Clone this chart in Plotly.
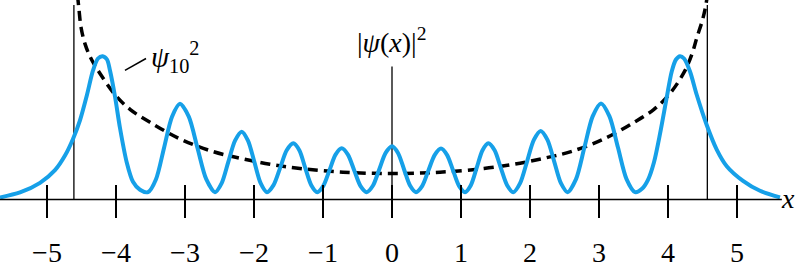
import plotly.graph_objects as go

# ---- data ----
psi_x = [-5.681, -5.391, -5.101, -4.884, -4.739, -4.623, -4.522, -4.420, -4.333, -4.261,
         -4.193, -4.130, -4.087, -4.014, -3.942, -3.845, -3.754, -3.652,
         -3.536, -3.420, -3.304, -3.188, -3.072, -2.945, -2.819, -2.692,
         -2.565, -2.468, -2.372, -2.275, -2.178, -2.087, -1.995, -1.904,
         -1.812, -1.717, -1.621, -1.526, -1.430, -1.343, -1.257, -1.170,
         -1.083, -0.995, -0.906, -0.818, -0.729, -0.639, -0.548, -0.458,
         -0.367, -0.275, -0.184, -0.092, 0.0, 0.087, 0.174, 0.261,
         0.348, 0.439, 0.529, 0.620, 0.710, 0.797, 0.884, 0.971,
         1.058, 1.143, 1.227, 1.312, 1.396, 1.487, 1.577, 1.668,
         1.758, 1.857, 1.957, 2.056, 2.155, 2.253, 2.351, 2.448,
         2.546, 2.667, 2.788, 2.908, 3.029, 3.152, 3.275, 3.399,
         3.522, 3.623, 3.710, 3.797, 3.884, 3.981, 4.054, 4.116, 4.174, 4.232, 4.319,
         4.416, 4.561, 4.706, 4.851, 5.087, 5.333, 5.623]
psi_y = [0.006, 0.021, 0.050, 0.088, 0.132, 0.182, 0.238, 0.315, 0.388, 0.424,
         0.431, 0.421, 0.388, 0.309, 0.215, 0.112, 0.053, 0.029,
         0.022, 0.061, 0.155, 0.249, 0.288, 0.249, 0.155, 0.061,
         0.022, 0.049, 0.113, 0.177, 0.204, 0.177, 0.113, 0.049,
         0.022, 0.043, 0.095, 0.148, 0.169, 0.148, 0.095, 0.043,
         0.022, 0.041, 0.088, 0.135, 0.154, 0.135, 0.088, 0.041,
         0.022, 0.042, 0.091, 0.140, 0.160, 0.140, 0.091, 0.042,
         0.022, 0.041, 0.088, 0.134, 0.153, 0.134, 0.088, 0.041,
         0.022, 0.043, 0.095, 0.148, 0.169, 0.148, 0.095, 0.043,
         0.022, 0.049, 0.114, 0.179, 0.206, 0.179, 0.114, 0.049,
         0.022, 0.061, 0.156, 0.250, 0.289, 0.250, 0.156, 0.061,
         0.022, 0.032, 0.059, 0.112, 0.197, 0.306, 0.385, 0.421, 0.431, 0.424, 0.385,
         0.315, 0.224, 0.150, 0.100, 0.056, 0.026, 0.006]

classical_x = [-4.558, -4.536, -4.507, -4.449, -4.362, -4.232, -4.014, -3.797, -3.507,
               -3.072, -2.594, -2.203, -1.768, -1.333, -0.710, 0.0, 0.696, 1.333, 1.768,
               2.203, 2.594, 3.072, 3.507, 3.797, 4.014, 4.232, 4.348, 4.420, 4.493,
               4.536, 4.572]
classical_y = [0.615, 0.571, 0.518, 0.468, 0.424, 0.379, 0.315, 0.271, 0.232,
               0.182, 0.144, 0.124, 0.106, 0.093, 0.082, 0.078, 0.082, 0.093, 0.106,
               0.124, 0.144, 0.182, 0.232, 0.271, 0.315, 0.382, 0.438, 0.488, 0.535,
               0.571, 0.615]

turning_points = [-4.61, 4.57]
turning_top = 0.585
center_top = 0.400
tick_vals = [-5, -4, -3, -2, -1, 0, 1, 2, 3, 4, 5]
x_range = [-5.681, 5.913]
y_range = [-0.1882, 0.6]
axis_end = 5.65
leader_x = [-3.870, -3.565]
leader_y = [0.388, 0.424]

BLUE = "rgb(22,160,232)"
SERIF = "'Liberation Serif', 'Times New Roman', 'DejaVu Serif', serif"

fig = go.Figure()

# axis line (drawn on the overlay axis)
fig.add_trace(go.Scatter(x=[x_range[0], axis_end], y=[0, 0], mode="lines",
                         line=dict(color="black", width=1.6), xaxis="x2",
                         hoverinfo="skip", showlegend=False))

# turning point lines
for tp in turning_points:
    fig.add_trace(go.Scatter(x=[tp, tp], y=[0, turning_top], mode="lines",
                             line=dict(color="black", width=1.3),
                             hoverinfo="skip", showlegend=False))
# central vertical line
fig.add_trace(go.Scatter(x=[0, 0], y=[0, center_top], mode="lines",
                         line=dict(color="black", width=1.3),
                         hoverinfo="skip", showlegend=False))

# classical probability (dashed)
fig.add_trace(go.Scatter(x=classical_x, y=classical_y, mode="lines",
                         line=dict(color="black", width=3.5, dash="10px,6px",
                                   shape="spline", smoothing=1.0),
                         hoverinfo="skip", showlegend=False))

# psi_10 squared
fig.add_trace(go.Scatter(x=psi_x, y=psi_y, mode="lines",
                         line=dict(color=BLUE, width=4, shape="spline", smoothing=0.8),
                         hoverinfo="skip", showlegend=False))

# leader line for the label
fig.add_trace(go.Scatter(x=leader_x, y=leader_y, mode="lines",
                         line=dict(color="black", width=1.5),
                         hoverinfo="skip", showlegend=False))

fig.add_annotation(x=-3.52, y=0.43, xref="x", yref="y", xanchor="left", yanchor="middle",
                   text="<i>ψ</i><sub>10</sub><sup>2</sup>", showarrow=False,
                   font=dict(family=SERIF, size=29, color="black"))
fig.add_annotation(x=0.0, y=0.478, xref="x", yref="y", xanchor="center", yanchor="middle",
                   text="|<i>ψ</i>(<i>x</i>)|<sup>2</sup>", showarrow=False,
                   font=dict(family=SERIF, size=28, color="black"))
fig.add_annotation(x=5.875, y=0.004, xref="x", yref="y", xanchor="right", yanchor="middle",
                   text="<i>x</i>", showarrow=False,
                   font=dict(family=SERIF, size=28, color="black"))

axis_pos = 64 / 268
fig.update_layout(
    width=800, height=268,
    margin=dict(l=0, r=0, t=0, b=0),
    paper_bgcolor="white", plot_bgcolor="white",
    showlegend=False,
    xaxis=dict(range=x_range, anchor="free", position=axis_pos,
               tickmode="array", tickvals=tick_vals,
               ticks="outside", ticklen=18, tickwidth=1.6, tickcolor="black",
               showline=False, showgrid=False, zeroline=False,
               ticklabelstandoff=10,
               tickfont=dict(family=SERIF, size=28, color="black")),
    xaxis2=dict(range=x_range, overlaying="x", anchor="free", position=axis_pos,
                side="bottom", tickmode="array", tickvals=tick_vals,
                ticks="inside", ticklen=14, tickwidth=1.6, tickcolor="black",
                showline=False, showgrid=False, zeroline=False, showticklabels=False),
    yaxis=dict(range=y_range, visible=False, showgrid=False, zeroline=False),
)

fig.write_html("out.html")
